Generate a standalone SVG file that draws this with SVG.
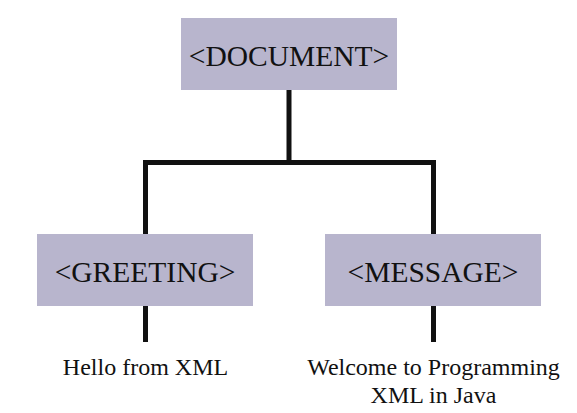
<svg xmlns="http://www.w3.org/2000/svg" width="577" height="413" viewBox="0 0 577 413">
  <style>
    .box { fill: #b8b5cd; }
    .tag { font-family: "Liberation Serif", "Times New Roman", serif; font-size: 29.5px; fill: #111; text-anchor: middle; }
    .txt { font-family: "Liberation Serif", "Times New Roman", serif; font-size: 24px; fill: #111; text-anchor: middle; }
    .conn { fill: none; stroke: #111; stroke-width: 5; stroke-linejoin: miter; }
  </style>
  <rect width="577" height="413" fill="#ffffff"/>
  <g id="connectors">
    <path class="conn" d="M289,90 V162.5"/>
    <path class="conn" d="M145.5,234 V162.5 H433.5 V234"/>
    <path class="conn" d="M145.5,306 V342"/>
    <path class="conn" d="M433.5,306 V342"/>
  </g>
  <g id="document">
    <rect class="box" x="181" y="18" width="216" height="72"/>
    <text class="tag" x="289" y="66">&lt;DOCUMENT&gt;</text>
  </g>
  <g id="greeting">
    <rect class="box" x="37" y="234" width="216" height="72"/>
    <text class="tag" x="145" y="282">&lt;GREETING&gt;</text>
  </g>
  <g id="message">
    <rect class="box" x="325" y="234" width="216" height="72"/>
    <text class="tag" x="433" y="282">&lt;MESSAGE&gt;</text>
  </g>
  <g id="greeting-text">
    <text class="txt" x="145.5" y="375">Hello from XML</text>
  </g>
  <g id="message-text">
    <text class="txt" x="433.5" y="375">Welcome to Programming</text>
    <text class="txt" x="433.5" y="403">XML in Java</text>
  </g>
</svg>
